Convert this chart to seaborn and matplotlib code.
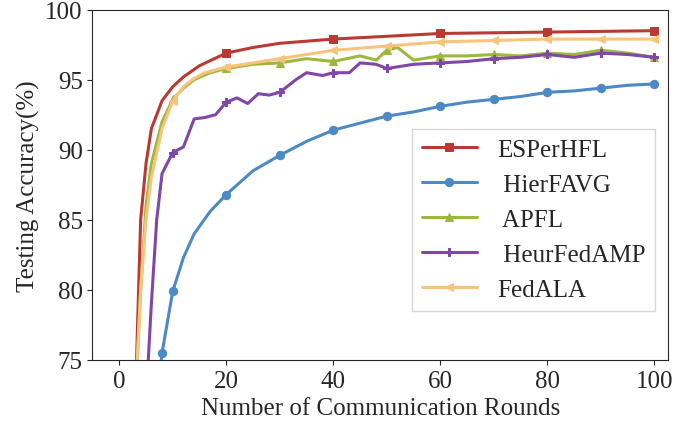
import matplotlib
matplotlib.use("Agg")
import matplotlib.pyplot as plt
import seaborn as sns
import numpy as np

sns.set_style("ticks")
plt.rcParams["font.family"] = "serif"
plt.rcParams["font.serif"] = ["Liberation Serif"]

es_x = [3,4,5,6,8,10,12,15,20,25,30,40,50,60,70,80,90,100]
es_y = [72,85,89,91.5,93.5,94.5,95.2,96,96.9,97.3,97.6,97.9,98.1,98.3,98.35,98.4,98.45,98.5]
hf_x = [7,8,10,12,14,17,20,25,30,35,40,45,50,55,60,65,70,75,80,85,90,95,100]
hf_y = [72,75.5,79.9,82.3,84.0,85.6,86.8,88.5,89.6,90.6,91.4,91.9,92.4,92.7,93.1,93.4,93.6,93.8,94.1,94.2,94.4,94.6,94.7]
ap_x = [3,4,5,6,8,10,12,14,17,20,25,30,35,40,45,48,50,52,55,60,65,70,75,80,85,90,95,100]
ap_y = [72,80,86,89,92,93.6,94.4,95.0,95.5,95.8,96.1,96.2,96.5,96.3,96.7,96.4,97.1,97.3,96.4,96.7,96.7,96.8,96.7,96.9,96.8,97.1,96.9,96.6]
hu_x = [5,6,7,8,10,12,14,16,18,20,22,24,26,28,30,33,35,38,40,43,45,48,50,55,60,65,70,75,80,85,90,95,100]
hu_y = [72,79,85,88.3,89.8,90.2,92.2,92.3,92.5,93.4,93.7,93.3,94.0,93.9,94.1,95.0,95.5,95.3,95.5,95.5,96.2,96.1,95.8,96.1,96.2,96.3,96.5,96.6,96.8,96.6,96.9,96.8,96.6]
fa_x = [3,4,5,6,8,10,12,14,16,20,25,30,35,40,50,60,70,80,90,100]
fa_y = [72,80,85,88,91.5,93.5,94.5,95.1,95.5,95.9,96.2,96.5,96.8,97.1,97.4,97.7,97.8,97.9,97.9,97.9]

series = [
    ("ESPerHFL", es_x, es_y, "#b83a32", "s"),
    (" HierFAVG", hf_x, hf_y, "#4d89c4", "o"),
    (" APFL", ap_x, ap_y, "#9cb93e", "^"),
    (" HeurFedAMP", hu_x, hu_y, "#8046a8", "P"),
    ("FedALA", fa_x, fa_y, "#f8c47c", "<"),
]

fig, ax = plt.subplots(figsize=(6.85, 4.27), dpi=100)
for name, xs, ys, c, m in series:
    me = [i for i, v in enumerate(xs) if v % 10 == 0 or (name == " HierFAVG" and v == 8)]
    if name == "ESPerHFL":
        me = [i for i, v in enumerate(xs) if v % 20 == 0]
    sns.lineplot(x=xs, y=ys, ax=ax, color=c, marker=m, markevery=me, lw=2.2,
                 markersize=6, label=name, markeredgecolor=c)
ax.set_xlim(-5, 102.5)
ax.set_ylim(75, 100)
ax.set_xticks([0,20,40,60,80,100])
ax.set_yticks([75,80,85,90,95,100])
ax.tick_params(labelsize=18, direction="out")
ax.set_xlabel("Number of Communication Rounds", fontsize=18)
ax.set_ylabel("Testing Accuracy(%)", fontsize=18)
ax.legend(loc="center right", bbox_to_anchor=(1.0, 0.4), fontsize=18, frameon=True,
          handlelength=2.2, fancybox=False, edgecolor="#cccccc")
fig.subplots_adjust(left=0.135, right=0.975, top=0.975, bottom=0.155)
fig.savefig("out.png", dpi=100)
